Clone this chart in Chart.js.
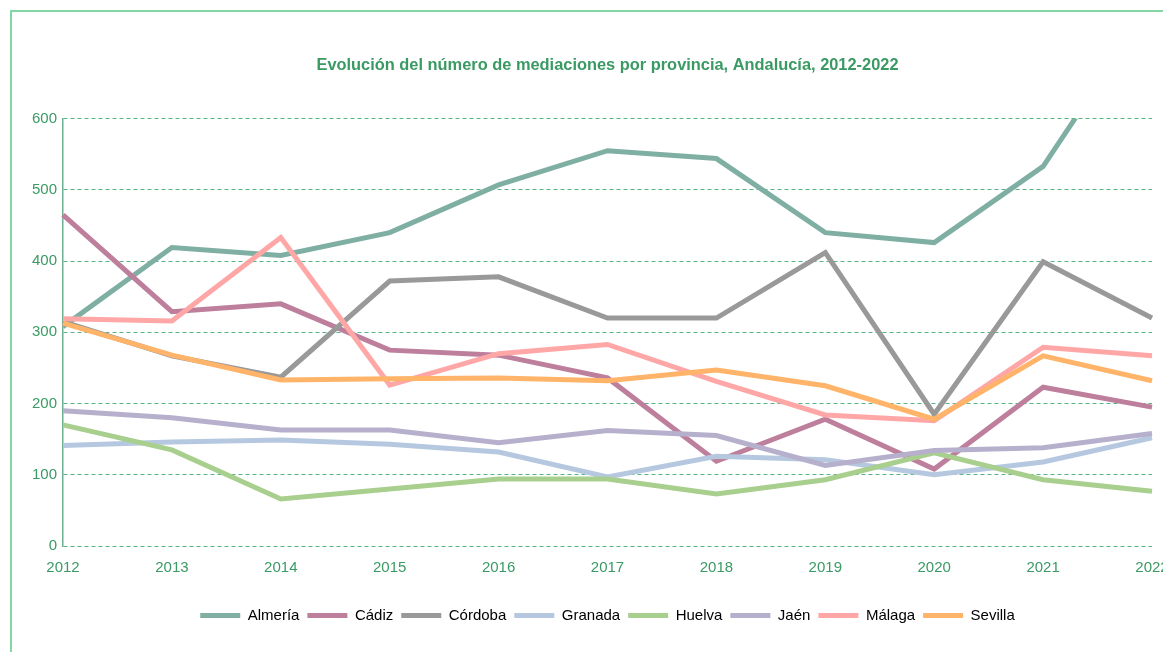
<!DOCTYPE html>
<html>
<head>
<meta charset="utf-8">
<script src="https://cdn.jsdelivr.net/npm/chart.js@4"></script>
<style>
  html, body { margin: 0; padding: 0; background: #fff; width: 1163px; height: 652px; overflow: hidden; }
  #frame { position: absolute; left: 10px; top: 10px; width: 1300px; height: 800px; border: 2px solid #84d7a4; }
  #wrap { position: absolute; left: 0; top: 0; width: 1232px; height: 652px; }
</style>
</head>
<body>
<div id="frame"></div>
<div id="wrap"><canvas id="lineChart"></canvas></div>
<script>
// data
const years = ["2012", "2013", "2014", "2015", "2016", "2017", "2018", "2019", "2020", "2021", "2022"]
const provinces = ["Almería", "Cádiz", "Córdoba", "Granada", "Huelva", "Jaén", "Málaga", "Sevilla"]
const almeria = [308, 419, 408, 440, 507, 555, 544, 440, 426, 533, 762]
const cadiz   = [465, 329, 340, 275, 268, 236, 119, 178, 108, 223, 195]
const cordoba = [315, 267, 237, 372, 378, 320, 320, 412, 185, 399, 320]
const granada = [141, 146, 149, 143, 132, 97, 126, 121, 100, 118, 152]
const huelva  = [170, 135, 66, 80, 94, 94, 73, 93, 131, 93, 77]
const jaen    = [190, 180, 163, 163, 145, 162, 155, 113, 134, 138, 158]
const malaga  = [319, 316, 433, 226, 270, 283, 231, 184, 176, 279, 267]
const sevilla = [313, 268, 233, 235, 236, 232, 247, 225, 178, 267, 232]
const yTicks = [0, 100, 200, 300, 400, 500, 600]

const series = [almeria, cadiz, cordoba, granada, huelva, jaen, malaga, sevilla]
const colors = ["#7fafa3", "#bd7f9c", "#999999", "#b5c8df", "#a9cf8e", "#b6b0cc", "#ffa7a7", "#ffb46a"]
const green = "#3a9a64"

function renderLines(){
  var ctxL = document.getElementById("lineChart").getContext('2d');

  let datasets = series.map((values, i) => {
    return {
      label: provinces[i],
      data: values,
      borderColor: colors[i],
      backgroundColor: colors[i],
      borderWidth: 5,
      pointRadius: 0,
      tension: 0,
      fill: false,
      order: series.length - i   // later series drawn on top, like the original
    }
  })

  var myLineChart = new Chart(ctxL, {
    type: 'line',
    data: {
      labels: years,
      datasets: datasets
    },
    options: {
      responsive: true,
      maintainAspectRatio: false,
      animation: false,
      layout: { padding: { left: 0, right: 80, top: 0, bottom: 19 } },
      plugins: {
        title: {
          display: true,
          fullSize: false,
          text: 'Evolución del número de mediaciones por provincia, Andalucía, 2012-2022',
          color: green,
          font: { family: 'Liberation Sans', size: 16.4, weight: 'bold' },
          padding: { top: 56, bottom: 43 }
        },
        legend: {
          position: 'bottom',
          fullSize: false,
          labels: {
            usePointStyle: true,
            pointStyle: 'line',
            pointStyleWidth: 40,
            boxHeight: 15,
            padding: 8,
            color: '#000',
            font: { family: 'Liberation Sans', size: 15 },
            sort: (a, b) => a.datasetIndex - b.datasetIndex
          }
        },
        tooltip: { enabled: false }
      },
      scales: {
        x: {
          grid: { display: false },
          border: { display: false },
          ticks: { color: green, font: { family: 'Liberation Sans', size: 15 }, padding: 5, maxRotation: 0 },
          afterFit: function(scale){ scale.height = 54 }
        },
        y: {
          min: 0,
          max: 600,
          afterBuildTicks: function(scale){ scale.ticks = yTicks.map(v => ({ value: v })) },
          grid: { color: '#55b583', lineWidth: 1, drawTicks: false },
          border: { display: true, color: '#6fae90', width: 1.5, dash: [4, 3] },
          ticks: { color: green, font: { family: 'Liberation Sans', size: 15 }, padding: 6 },
          afterFit: function(scale){ scale.width = 63 }
        }
      }
    }
  });
}

renderLines()
</script>
</body>
</html>
